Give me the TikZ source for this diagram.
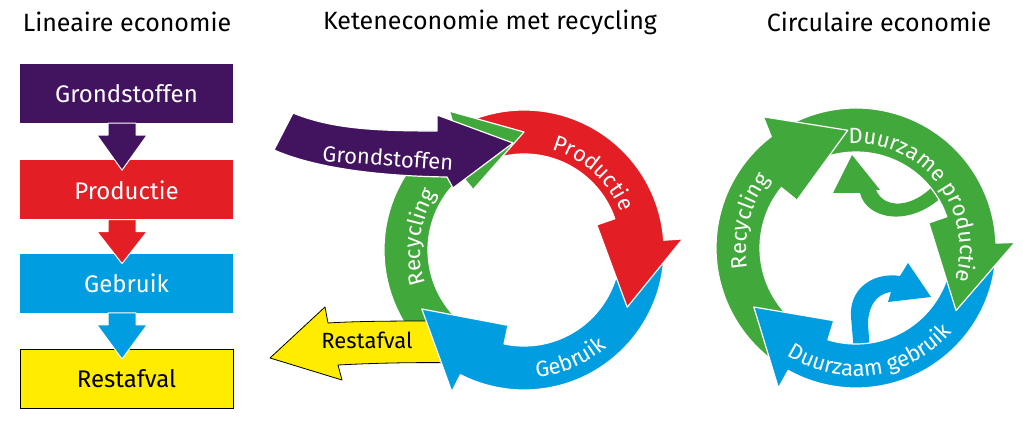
\documentclass[tikz,border=0pt]{standalone}
\usepackage{fontspec}
\setmainfont{Fira Sans}
\usetikzlibrary{calc,positioning,decorations.text}
\definecolor{paars}{HTML}{42145F}
\definecolor{rood}{HTML}{E31E24}
\definecolor{blauw}{HTML}{009EE0}
\definecolor{groen}{HTML}{41A83B}
\definecolor{geel}{HTML}{FFEC00}
\def\ringout{140}
\def\ringin{96}
\def\ringmid{118}
\newcommand{\ringtext}{\fontsize{22}{26}\selectfont}
% colour, centre, start, outer corner, inner corner, tip, head half width
\newcommand{\ringarrow}[7]{%
  \filldraw[ring, fill=#1, shift={#2}] (#3:\ringout) arc[start angle=#3, end angle=#4, radius=\ringout]
    -- (#4:{\ringmid+#7}) -- (#6:\ringmid) -- (#5:{\ringmid-#7}) -- (#5:\ringin)
    arc[start angle=#5, end angle=#3, radius=\ringin] -- cycle;}
\newcommand{\ringhead}[6]{%
  \fill[#1, shift={#2}] (#3:{\ringmid+#6}) -- (#5:\ringmid) -- (#4:{\ringmid-#6}) -- cycle;
  \draw[ring, shift={#2}] (#3:{\ringmid+#6}) -- (#5:\ringmid) -- (#4:{\ringmid-#6});}
\newcommand{\flowdown}[3]{%
  \filldraw[fill=#1, draw=white, line width=1pt, line join=round] ($(#2.south)+(-18.5,0)$) -- ++(0,-12) -- ++(-11,0)
    -- ($(#3.north)+(-4.5,-10)$) -- ($(#2.south)+(20.5,-12)$) -- ++(-11,0) -- ++(0,12) -- cycle;}

\begin{document}
\begin{tikzpicture}[x=1pt, y=1pt, font=\fontsize{22}{26}\selectfont,
  box/.style={minimum width=213pt, minimum height=59pt, inner sep=0pt, text=white, font=\fontsize{24}{28}\selectfont},
  ring/.style={draw=white, line width=1.2pt, line join=round},
  title/.style={font=\fontsize{25}{30}\selectfont}]
  \useasboundingbox (0,0) rectangle (1023,434);

  % titels
  \node[title] (t1) at (127,412) {Lineaire economie};
  \node[title] (t2) at (490,412) {Keteneconomie met recycling};
  \node[title] (t3) at (879,412) {Circulaire economie};

  % lineaire economie
  \node[box, fill=paars] (grond) at (126.5,340.5) {Grondstoffen};
  \node[box, fill=rood, below=37pt of grond] (prod) {Productie};
  \node[box, fill=blauw, below=34pt of prod] (gebr) {Gebruik};
  \node[box, fill=geel, draw=black, line width=0.8pt, text=black, below=36pt of gebr] (rest) {Restafval};
  \flowdown{paars}{grond}{prod}
  \flowdown{rood}{prod}{gebr}
  \flowdown{blauw}{gebr}{rest}

  % keteneconomie
  \coordinate (keten) at (524,184);
  \ringarrow{groen}{(keten)}{238}{118}{130}{90}{39}
  \filldraw[fill=geel, draw=black, line width=0.8pt, line join=round] (442,113) .. controls (400,113) and (360,113) .. (328,111)
    -- (325,127) -- (270,76) -- (342,54) -- (338,69) .. controls (375,71) and (420,72) .. (462,71) -- cycle;
  \node (restafv) at (367,94) {Restafval};
  \ringarrow{blauw}{(keten)}{1}{-117}{-102}{-150}{41}
  \ringarrow{rood}{(keten)}{114}{4}{19}{-29}{41}
  \ringhead{groen}{(keten)}{118}{130}{90}{39}
  \filldraw[fill=paars, ring] (274,284) -- (293,321) .. controls (330,306) and (370,303) .. (437,303)
    -- (437,319) -- (513,291) -- (453,246) -- (447,257) .. controls (370,258) and (310,268) .. (274,284) -- cycle;
  \node[text=white, rotate=-4] (grondst) at (388,276) {Grondstoffen};
  \path[shift={(keten)}, decorate, decoration={text along path, text align=center, text color=white,
    text={|\ringtext|Recycling}}] (233:104) arc[start angle=233, end angle=113, radius=104];
  \path[shift={(keten)}, decorate, decoration={text along path, text align=center, text color=white,
    text={|\ringtext|Productie}}] (108:104) arc[start angle=108, end angle=-12, radius=104];
  \path[shift={(keten)}, decorate, decoration={text along path, text align=center, text color=white,
    text={|\ringtext|Gebruik}}] (-127:128) arc[start angle=-127, end angle=-7, radius=128];

  % circulaire economie
  \coordinate (kring) at (856,186);
  \fill[groen] (833,241) -- (852,279) -- (880,244) -- (876,244) .. controls (884,225) and (912,225) .. (935,250)
    -- (945,240) .. controls (910,205) and (866,215) .. (860,241) -- cycle;
  \fill[blauw] (854,82) -- (851,117) .. controls (849,147) and (875,162) .. (900,158) -- (908,171) -- (931,137)
    -- (888,132) -- (891,142) .. controls (875,140) and (868,126) .. (868,110) -- (870,82) -- cycle;
  \ringarrow{groen}{(kring)}{237}{125}{141}{94}{42}
  \ringarrow{blauw}{(kring)}{-1}{-119}{-107}{-150}{42}
  \ringarrow{groen}{(kring)}{120}{2}{19}{-32}{41}
  \ringhead{groen}{(kring)}{125}{141}{94}{42}
  \path[shift={(kring)}, decorate, decoration={text along path, text align=center, text color=white,
    text={|\ringtext|Recycling}}] (226:110) arc[start angle=226, end angle=106, radius=110];
  \path[shift={(kring)}, decorate, decoration={text along path, text align=center, text color=white,
    text={|\ringtext|Duurzame productie}}] (158:104) arc[start angle=158, end angle=-82, radius=104];
  \path[shift={(kring)}, decorate, decoration={text along path, text align=center, text color=white,
    text={|\ringtext|Duurzaam gebruik}}] (-202:128) arc[start angle=-202, end angle=38, radius=128];
\end{tikzpicture}
\end{document}
